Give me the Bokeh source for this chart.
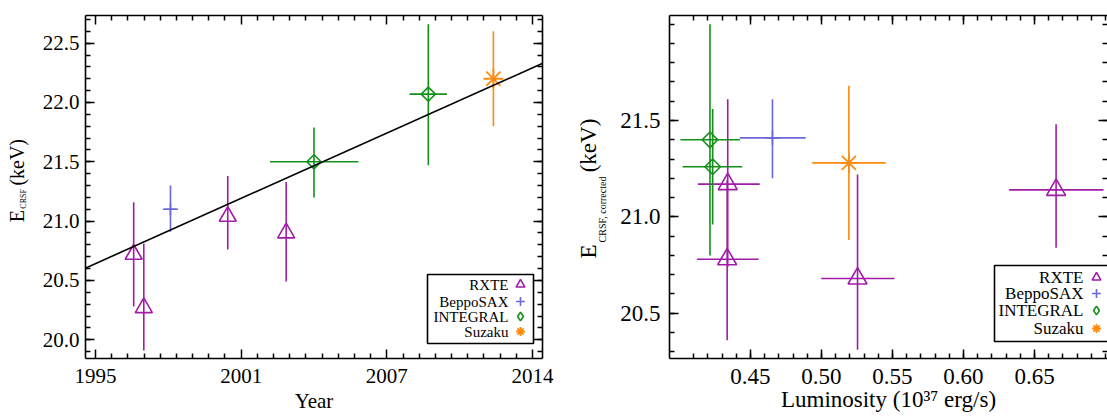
import numpy as np
from bokeh.plotting import figure
from bokeh.models import (Range1d, FixedTicker, LinearAxis, Label, BoxAnnotation,
                          Legend, LegendItem, ColumnDataSource, CustomJSTickFormatter, Slope)
from bokeh.layouts import row
from bokeh.embed import file_html
from bokeh.resources import INLINE

# ---------------- data: left panel (E_CRSF vs year) ----------------
rxte_year = [1996.66, 1997.10, 2000.75, 2003.29]
rxte_e = [20.72, 20.27, 21.04, 20.90]
rxte_e_lo = [20.28, 19.91, 20.76, 20.49]
rxte_e_hi = [21.16, 20.81, 21.38, 21.33]

sax_year = [1998.26]
sax_year_lo = [1997.93]
sax_year_hi = [1998.59]
sax_e = [21.10]
sax_e_lo = [20.91]
sax_e_hi = [21.30]

int_year = [2004.50, 2009.47]
int_year_lo = [2002.59, 2008.65]
int_year_hi = [2006.43, 2010.28]
int_e = [21.50, 22.07]
int_e_lo = [21.20, 21.47]
int_e_hi = [21.79, 22.66]

suz_year = [2012.30]
suz_e = [22.20]
suz_e_lo = [21.80]
suz_e_hi = [22.60]

fit_slope = 0.0868          # keV / yr
fit_pivot_year = 2005.0
fit_value_at_pivot = 21.51  # keV

year_tick_labels = ["1995", "2001", "2007", "2014"]

# ---------------- data: right panel (E_CRSF,corr vs luminosity) ----------------
rxte_lum = [0.4340, 0.4336, 0.5254, 0.6652]
rxte_lum_lo = [0.4130, 0.4123, 0.4998, 0.6321]
rxte_lum_hi = [0.4565, 0.4558, 0.5514, 0.6986]
rxte_ec = [21.17, 20.78, 20.68, 21.14]
rxte_ec_lo = [20.74, 20.36, 20.31, 20.84]
rxte_ec_hi = [21.61, 21.19, 21.22, 21.48]

sax_lum = [0.4655]
sax_lum_lo = [0.4425]
sax_lum_hi = [0.4889]
sax_ec = [21.41]
sax_ec_lo = [21.20]
sax_ec_hi = [21.61]

int_lum = [0.4215, 0.4234]
int_lum_lo = [0.4007, 0.4022]
int_lum_hi = [0.4425, 0.4442]
int_ec = [21.40, 21.26]
int_ec_lo = [20.80, 20.96]
int_ec_hi = [22.00, 21.56]

suz_lum = [0.5193]
suz_lum_lo = [0.4935]
suz_lum_hi = [0.5452]
suz_ec = [21.28]
suz_ec_lo = [20.88]
suz_ec_hi = [21.68]

names = ["RXTE", "BeppoSAX", "INTEGRAL", "Suzaku"]
colors = {"RXTE": "#a01ca8", "BeppoSAX": "#6868d8", "INTEGRAL": "#14901a", "Suzaku": "#ff8a10"}

SERIF = "Liberation Serif"


def style_axis(ax, ticker, fsize, standoff, show_labels=True, formatter=None, show_line=True):
    ax.ticker = ticker
    ax.axis_line_color = "black" if show_line else None
    ax.axis_line_width = 1.6
    ax.major_tick_in = 9
    ax.major_tick_out = 0
    ax.minor_tick_in = 5
    ax.minor_tick_out = 0
    ax.major_tick_line_width = 1.5
    ax.minor_tick_line_width = 1.5
    ax.major_tick_line_color = "black"
    ax.minor_tick_line_color = "black"
    ax.major_label_text_font = SERIF
    ax.major_label_text_color = "black"
    ax.major_label_standoff = standoff
    ax.axis_label_text_font = SERIF
    ax.axis_label_text_font_style = "normal"
    ax.axis_label_text_color = "black"
    if show_labels:
        ax.major_label_text_font_size = fsize
        if formatter is not None:
            ax.formatter = formatter
    else:
        ax.major_label_text_font_size = "1px"
        ax.major_label_standoff = 0
        ax.formatter = CustomJSTickFormatter(code="return ''")


def title_axis(p, positions, texts, fsize, standoff):
    """An extra left axis used only to write pieces of the y title."""
    ax = LinearAxis(ticker=FixedTicker(ticks=positions, minor_ticks=[]),
                    formatter=CustomJSTickFormatter(args=dict(labels=texts), code="return labels[index]"))
    ax.axis_line_color = None
    ax.major_tick_line_color = None
    ax.minor_tick_line_color = None
    ax.major_tick_in = 0
    ax.major_tick_out = 0
    ax.minor_tick_in = 0
    ax.minor_tick_out = 0
    ax.major_label_orientation = "parallel"
    ax.major_label_standoff = standoff
    ax.major_label_text_font = SERIF
    ax.major_label_text_font_size = fsize
    ax.major_label_text_color = "black"
    p.add_layout(ax, "left")
    return ax


def errbars(p, x, y, ylo, yhi, color, xlo=None, xhi=None):
    src = ColumnDataSource(dict(x=x, y=y, ylo=ylo, yhi=yhi))
    p.segment(x0="x", y0="ylo", x1="x", y1="yhi", source=src, line_color=color, line_width=1.6)
    if xlo is not None:
        src2 = ColumnDataSource(dict(y=y, xlo=xlo, xhi=xhi))
        p.segment(x0="xlo", y0="y", x1="xhi", y1="y", source=src2, line_color=color, line_width=1.6)


def legend_block(p, renderers, box, text_right, marker_x, rows_y, fsize):
    p.add_layout(BoxAnnotation(left=box[0], right=box[1], bottom=box[2], top=box[3],
                               left_units="screen", right_units="screen",
                               bottom_units="screen", top_units="screen",
                               fill_color="white", fill_alpha=1.0,
                               line_color="black", line_alpha=1.0, line_width=1.6))
    for name, r, yy in zip(names, renderers, rows_y):
        p.add_layout(Label(x=text_right, y=yy, x_units="screen", y_units="screen", text=name,
                           text_align="right", text_baseline="middle",
                           text_font=SERIF, text_font_size=fsize, text_color="black"))
        lg = Legend(items=[LegendItem(label="", renderers=[r])],
                    location=(marker_x - 11, yy - 11), glyph_width=22, glyph_height=22,
                    padding=0, margin=0, spacing=0, label_standoff=0, label_width=0,
                    label_height=0, border_line_color=None, background_fill_alpha=0.0)
        p.add_layout(lg)


def pix_to_y(p_y0, p_y1, frame_bottom, frame_top, cy):
    return p_y0 + (frame_bottom - cy) * (p_y1 - p_y0) / (frame_bottom - frame_top)


# ======================= left figure =======================
X1 = (1994.565, 2014.435)
Y1 = (19.842, 22.733)
p1 = figure(width=572, height=419, x_range=Range1d(*X1), y_range=Range1d(*Y1),
            output_backend="svg", toolbar_location=None,
            min_border_left=85, min_border_right=30, min_border_top=11, min_border_bottom=61)
p1.outline_line_color = None
p1.xgrid.visible = False
p1.ygrid.visible = False

x_major = list(np.linspace(1995, 2014, 4))
x_minor = []
for a, b in zip(x_major[:-1], x_major[1:]):
    x_minor += list(np.linspace(a, b, 10)[1:-1])
xt1 = FixedTicker(ticks=x_major, minor_ticks=x_minor)
y_major1 = [20.0, 20.5, 21.0, 21.5, 22.0, 22.5]
y_minor1 = [round(v, 1) for v in np.arange(19.9, 22.75, 0.1)]
yt1 = FixedTicker(ticks=y_major1, minor_ticks=y_minor1)

year_fmt = CustomJSTickFormatter(args=dict(labels=year_tick_labels), code="return labels[index]")
style_axis(p1.xaxis[0], xt1, "21px", 10, formatter=year_fmt)
p1.xaxis[0].axis_label = "Year"
p1.xaxis[0].axis_label_text_font_size = "21px"
p1.xaxis[0].axis_label_standoff = 3
style_axis(p1.yaxis[0], yt1, "21px", 6,
           formatter=CustomJSTickFormatter(code="return tick.toFixed(1)"))
top1 = LinearAxis()
style_axis(top1, FixedTicker(ticks=x_major, minor_ticks=x_minor), "1px", 0, show_labels=False)
p1.add_layout(top1, "above")
right1 = LinearAxis()
style_axis(right1, FixedTicker(ticks=y_major1, minor_ticks=y_minor1), "1px", 0, show_labels=False)
p1.add_layout(right1, "right")

# y title: E_CRSF (keV), written bottom-to-top
e1 = pix_to_y(*Y1, 358, 11, 214)
sub1 = pix_to_y(*Y1, 358, 11, 196.5)
kev1 = pix_to_y(*Y1, 358, 11, 159.5)
title_axis(p1, [sub1], ["CRSF"], "8px", 11)
title_axis(p1, [e1, kev1], ["E", "(keV)"], "20px", -12)

p1.add_layout(Slope(gradient=fit_slope, y_intercept=fit_value_at_pivot - fit_slope * fit_pivot_year,
                    line_color="black", line_width=1.6))

errbars(p1, rxte_year, rxte_e, rxte_e_lo, rxte_e_hi, colors["RXTE"])
errbars(p1, sax_year, sax_e, sax_e_lo, sax_e_hi, colors["BeppoSAX"], sax_year_lo, sax_year_hi)
errbars(p1, int_year, int_e, int_e_lo, int_e_hi, colors["INTEGRAL"], int_year_lo, int_year_hi)
errbars(p1, suz_year, suz_e, suz_e_lo, suz_e_hi, colors["Suzaku"])

r1a = p1.scatter(rxte_year, rxte_e, marker="triangle", size=17, fill_color=None,
                 line_color=colors["RXTE"], line_width=1.6)
r1b = p1.scatter(sax_year, sax_e, marker="cross", size=12, line_color=colors["BeppoSAX"], line_width=1.6)
p1.scatter(int_year, int_e, marker="square", angle=np.pi / 4, size=10, fill_color=None,
           line_color=colors["INTEGRAL"], line_width=1.6)
# legend glyph for INTEGRAL (diamond key, nothing drawn on the data itself)
r1c = p1.scatter(int_year, int_e, marker="diamond", size=0, fill_color=None,
                 line_color=colors["INTEGRAL"], line_width=1.6)
r1d = p1.scatter(suz_year, suz_e, marker="asterisk", size=20, line_color=colors["Suzaku"], line_width=1.8)

legend_block(p1, [r1a, r1b, r1c, r1d], (342, 448, 15, 84), 423, 435, [74, 57, 42, 27], "15px")

# ======================= right figure =======================
X2 = (0.393, 0.7014)
Y2 = (20.265, 22.045)
p2 = figure(width=535, height=419, x_range=Range1d(*X2), y_range=Range1d(*Y2),
            output_backend="svg", toolbar_location=None,
            min_border_left=89, min_border_right=0, min_border_top=15, min_border_bottom=61)
p2.outline_line_color = None
p2.xgrid.visible = False
p2.ygrid.visible = False

x_major2 = [0.45, 0.50, 0.55, 0.60, 0.65]
x_minor2 = [round(v, 2) for v in np.arange(0.41, 0.705, 0.01)]
y_major2 = [20.5, 21.0, 21.5]
y_minor2 = [round(v, 1) for v in np.arange(20.3, 22.05, 0.1)]
style_axis(p2.xaxis[0], FixedTicker(ticks=x_major2, minor_ticks=x_minor2), "23px", 10,
           formatter=CustomJSTickFormatter(code="return tick.toFixed(2)"))
p2.xaxis[0].axis_label = "Luminosity (10\u00b3\u2077 erg/s)"
p2.xaxis[0].axis_label_text_font_size = "23px"
p2.xaxis[0].axis_label_standoff = 0
style_axis(p2.yaxis[0], FixedTicker(ticks=y_major2, minor_ticks=y_minor2), "23px", 9,
           formatter=CustomJSTickFormatter(code="return tick.toFixed(1)"))
top2 = LinearAxis()
style_axis(top2, FixedTicker(ticks=x_major2, minor_ticks=x_minor2), "1px", 0, show_labels=False)
p2.add_layout(top2, "above")
right2 = LinearAxis()
style_axis(right2, FixedTicker(ticks=y_major2, minor_ticks=y_minor2), "1px", 0, show_labels=False,
           show_line=False)
p2.add_layout(right2, "right")

e2 = pix_to_y(*Y2, 358, 15, 251)
sub2 = pix_to_y(*Y2, 358, 15, 209)
kev2 = pix_to_y(*Y2, 358, 15, 145)
title_axis(p2, [sub2], ["CRSF, corrected"], "10px", 10)
title_axis(p2, [e2, kev2], ["E", "(keV)"], "23px", -7)

errbars(p2, rxte_lum, rxte_ec, rxte_ec_lo, rxte_ec_hi, colors["RXTE"], rxte_lum_lo, rxte_lum_hi)
errbars(p2, sax_lum, sax_ec, sax_ec_lo, sax_ec_hi, colors["BeppoSAX"], sax_lum_lo, sax_lum_hi)
errbars(p2, int_lum, int_ec, int_ec_lo, int_ec_hi, colors["INTEGRAL"], int_lum_lo, int_lum_hi)
errbars(p2, suz_lum, suz_ec, suz_ec_lo, suz_ec_hi, colors["Suzaku"], suz_lum_lo, suz_lum_hi)

r2a = p2.scatter(rxte_lum, rxte_ec, marker="triangle", size=19, fill_color=None,
                 line_color=colors["RXTE"], line_width=1.6)
r2b = p2.scatter(sax_lum, sax_ec, marker="cross", size=14, line_color=colors["BeppoSAX"], line_width=1.6)
p2.scatter(int_lum, int_ec, marker="square", angle=np.pi / 4, size=11, fill_color=None,
           line_color=colors["INTEGRAL"], line_width=1.6)
r2c = p2.scatter(int_lum, int_ec, marker="diamond", size=0, fill_color=None,
                 line_color=colors["INTEGRAL"], line_width=1.6)
r2d = p2.scatter(suz_lum, suz_ec, marker="asterisk", size=20, line_color=colors["Suzaku"], line_width=1.8)

legend_block(p2, [r2a, r2b, r2c, r2d], (325, 442, 17, 93), 414, 427, [81, 65, 48, 30], "17px")

layout = row(p1, p2)
open("out.html", "w").write(file_html(layout, INLINE))
